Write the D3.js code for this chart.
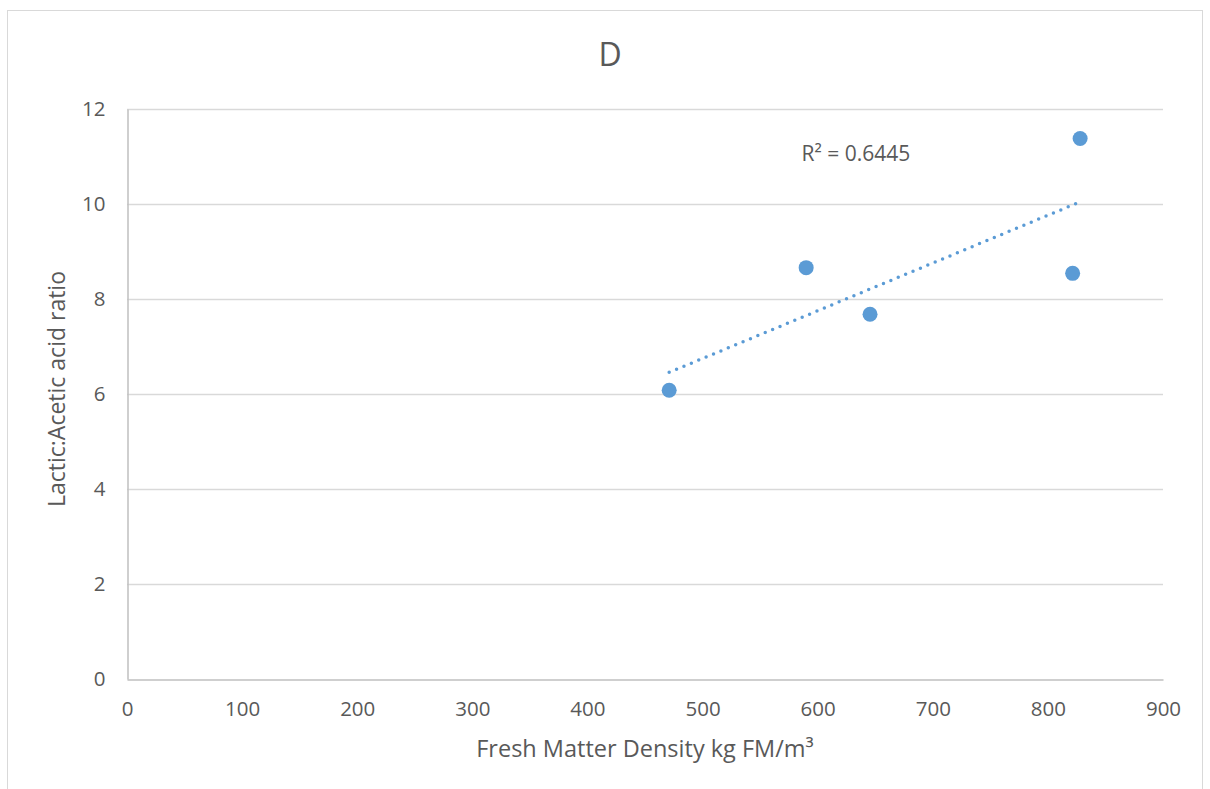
<!DOCTYPE html>
<html>
<head>
<meta charset="utf-8">
<script src="https://cdn.jsdelivr.net/npm/d3@7"></script>
<style>
  html, body { margin: 0; padding: 0; background: #fff; }
  svg { display: block; }
</style>
</head>
<body>
<div id="graphic"></div>
<script>
'use strict';
(function (d3) {
  // data
  const density = [471, 590, 645.5, 821.5, 828];
  const ratio = [6.08, 8.66, 7.68, 8.54, 11.38];
  const xTicks = [0, 100, 200, 300, 400, 500, 600, 700, 800, 900];
  const yTicks = [0, 2, 4, 6, 8, 10, 12];
  const title = `D`;
  const xTitle = `Fresh Matter Density kg FM/m³`;
  const yTitle = `Lactic:Acetic acid ratio`;
  const r2Label = `R² = 0.6445`;

  const width = 1210;
  const height = 789;
  const margin = { top: 109, right: 47, bottom: 110, left: 127 };
  const font = `"Open Sans", "Noto Sans", sans-serif`;
  const textColor = `#595959`;
  const blue = `#5b9bd5`;

  const points = density.map((d, i) => ({ x: d, y: ratio[i] }));

  const x = d3.scaleLinear().domain([0, 900]).range([margin.left, width - margin.right]);
  const y = d3.scaleLinear().domain([0, 12]).range([height - margin.bottom, margin.top]);

  // least squares trend line
  const mx = d3.mean(density);
  const my = d3.mean(ratio);
  const sxy = d3.sum(points, (p) => (p.x - mx) * (p.y - my));
  const sxx = d3.sum(points, (p) => (p.x - mx) * (p.x - mx));
  const slope = sxy / sxx;
  const intercept = my - slope * mx;
  const [x0, x1] = d3.extent(density);
  const trend = [
    { x: x0, y: intercept + slope * x0 },
    { x: x1, y: intercept + slope * x1 }
  ];

  const svg = d3.select(`#graphic`).append(`svg`).attr(`width`, width).attr(`height`, height);

  // chart border
  svg
    .append(`rect`)
    .attr(`x`, 7.5)
    .attr(`y`, 10.5)
    .attr(`width`, 1195)
    .attr(`height`, 800)
    .attr(`fill`, `none`)
    .attr(`stroke`, `#d9d9d9`);

  // gridlines
  svg
    .append(`g`)
    .selectAll(`line`)
    .data(yTicks.filter((d) => d > 0))
    .join(`line`)
    .attr(`x1`, x(0))
    .attr(`x2`, x(900))
    .attr(`y1`, (d) => Math.round(y(d)) + 0.5)
    .attr(`y2`, (d) => Math.round(y(d)) + 0.5)
    .attr(`stroke`, `#d9d9d9`)
    .attr(`stroke-width`, 1.5);

  // axes
  const xAxis = svg
    .append(`g`)
    .attr(`transform`, `translate(0,${Math.round(y(0)) + 0.5})`)
    .call(d3.axisBottom(x).tickValues(xTicks).tickSize(0).tickPadding(22));
  const yAxis = svg
    .append(`g`)
    .attr(`transform`, `translate(${Math.round(x(0)) + 0.5},0)`)
    .call(d3.axisLeft(y).tickValues(yTicks).tickSize(0).tickPadding(22));

  [xAxis, yAxis].forEach((g) => {
    g.select(`.domain`).attr(`stroke`, `#bfbfbf`).attr(`stroke-width`, 1.5);
    g.selectAll(`text`).attr(`fill`, textColor).attr(`font-family`, font).attr(`font-size`, 20.5);
  });

  // trend line
  svg
    .append(`path`)
    .datum(trend)
    .attr(`fill`, `none`)
    .attr(`stroke`, blue)
    .attr(`stroke-width`, 3.5)
    .attr(`stroke-linecap`, `round`)
    .attr(`stroke-dasharray`, `0 8`)
    .attr(
      `d`,
      d3
        .line()
        .x((d) => x(d.x))
        .y((d) => y(d.y))
    );

  // points
  svg
    .append(`g`)
    .selectAll(`circle`)
    .data(points)
    .join(`circle`)
    .attr(`cx`, (d) => x(d.x))
    .attr(`cy`, (d) => y(d.y))
    .attr(`r`, 7.5)
    .attr(`fill`, blue);

  // R² label
  svg
    .append(`text`)
    .attr(`x`, x(586))
    .attr(`y`, y(10.9))
    .attr(`fill`, textColor)
    .attr(`font-family`, font)
    .attr(`font-size`, 21)
    .text(r2Label);

  // titles
  svg
    .append(`text`)
    .attr(`x`, 610)
    .attr(`y`, 66)
    .attr(`text-anchor`, `middle`)
    .attr(`fill`, textColor)
    .attr(`font-family`, font)
    .attr(`font-size`, 32)
    .text(title);

  svg
    .append(`text`)
    .attr(`x`, 645)
    .attr(`y`, 757)
    .attr(`text-anchor`, `middle`)
    .attr(`fill`, textColor)
    .attr(`font-family`, font)
    .attr(`font-size`, 23.5)
    .text(xTitle);

  svg
    .append(`text`)
    .attr(`transform`, `translate(65,389) rotate(-90)`)
    .attr(`text-anchor`, `middle`)
    .attr(`fill`, textColor)
    .attr(`font-family`, font)
    .attr(`font-size`, 23)
    .text(yTitle);
})(d3);
</script>
</body>
</html>
